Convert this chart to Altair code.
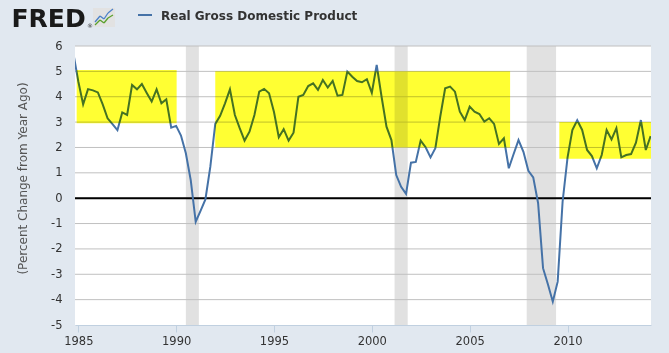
import altair as alt
import pandas as pd

# ---------------- data ----------------
quarter_start = "1984-10-01"
gdp_pct = [
    5.7, 4.6, 3.7, 4.3, 4.25, 4.17, 3.7, 3.15, 2.92, 2.68,
    3.38, 3.28, 4.46, 4.29, 4.5, 4.15, 3.81, 4.29, 3.74, 3.9,
    2.78, 2.85, 2.47, 1.77, 0.7, -0.93, -0.5, -0.05, 1.24, 2.93,
    3.25, 3.74, 4.29, 3.28, 2.76, 2.27, 2.62, 3.28, 4.2, 4.31,
    4.14, 3.4, 2.4, 2.72, 2.27, 2.58, 4.0, 4.07, 4.42, 4.53,
    4.27, 4.66, 4.36, 4.62, 4.04, 4.07, 4.99, 4.79, 4.62, 4.57,
    4.69, 4.15, 5.25, 4.0, 2.82, 2.29, 0.91, 0.45, 0.17, 1.4,
    1.43, 2.27, 2.01, 1.61, 1.97, 3.21, 4.33, 4.4, 4.2, 3.41,
    3.08, 3.61, 3.41, 3.32, 3.02, 3.15, 2.93, 2.14, 2.36, 1.18,
    1.74, 2.29, 1.83, 1.08, 0.82, -0.2, -2.76, -3.4, -4.08, -3.29,
    -0.14, 1.6, 2.69, 3.07, 2.69, 1.9, 1.66, 1.18, 1.7, 2.69,
    2.32, 2.76, 1.61, 1.7, 1.74, 2.19, 3.08, 1.9, 2.45,
]
quarters = pd.date_range(quarter_start, periods=len(gdp_pct), freq="QS").strftime("%Y-%m-%d").tolist()

rec_start = ["1990-07-01", "2001-03-01", "2007-12-01"]
rec_end = ["1991-03-01", "2001-11-01", "2009-06-01"]

box_x1 = ["1984-12-01", "1992-01-01", "2009-08-01"]
box_x2 = ["1990-01-10", "2007-01-25", "2014-04-08"]
box_y1 = [2.95, 2.0, 1.55]
box_y2 = [5.05, 5.0, 3.0]

y_ticks = list(range(-5, 7))
x_years = [1985, 1990, 1995, 2000, 2005, 2010]

series_name = "Real Gross Domestic Product"
y_title = "(Percent Change from Year Ago)"

# ---------------- scales & axes ----------------
x_scale = alt.Scale(
    type="utc",
    domain=[alt.DateTime(year=1984, month=10, date=31, utc=True),
            alt.DateTime(year=2014, month=4, date=8, utc=True)],
)
y_scale = alt.Scale(domain=[-5, 6], nice=False, zero=False)

FONT = "DejaVu Sans"

x_axis = alt.Axis(
    values=[alt.DateTime(year=y, month=1, date=1, utc=True) for y in x_years],
    format="%Y",
    grid=False,
    title=None,
    domainColor="#c0d0e0",
    tickColor="#c0d0e0",
    tickSize=7,
    labelColor="#333333",
    labelFontSize=11.5,
    labelFont=FONT,
    labelPadding=3,
    labelFlush=False,
)
y_axis = alt.Axis(
    values=y_ticks,
    labelExpr="replace(datum.label, '\u2212', '-')",
    grid=False,
    domain=False,
    ticks=False,
    labelPadding=13,
    labelFontSize=11.5,
    labelFont=FONT,
    labelColor="#333333",
    title=y_title,
    titleFont=FONT,
    titleFontSize=12,
    titleFontWeight="normal",
    titleColor="#555555",
    titleAngle=270,
    titleAlign="center",
    titleBaseline="middle",
    titleX=-53,
    titleY=132,
)

line_df = pd.DataFrame({"date": quarters, "value": gdp_pct})
rec_df = pd.DataFrame({"start": rec_start, "end": rec_end})
box_df = pd.DataFrame({"x1": box_x1, "x2": box_x2, "y1": box_y1, "y2": box_y2})
grid_df = pd.DataFrame({"v": y_ticks[1:]})
zero_df = pd.DataFrame({"v": [0]})
one = pd.DataFrame({"a": [0]})

recessions = alt.Chart(rec_df).mark_rect(color="#e1e1e1").encode(
    x=alt.X("start:T", scale=x_scale, axis=x_axis),
    x2="end:T",
)

gridlines = alt.Chart(grid_df).mark_rule(color="#c0c0c0", strokeWidth=1).encode(
    y=alt.Y("v:Q", scale=y_scale, axis=y_axis)
)

zero_line = alt.Chart(zero_df).mark_rule(color="black", strokeWidth=2).encode(
    y=alt.Y("v:Q", scale=y_scale, axis=y_axis)
)

line = alt.Chart(line_df).mark_line(color="#4572a7", strokeWidth=2, clip=True).encode(
    x=alt.X("date:T", scale=x_scale, axis=x_axis),
    y=alt.Y("value:Q", scale=y_scale, axis=y_axis),
)

boxes = alt.Chart(box_df).mark_rect(color="#ffff33", blend="multiply").encode(
    x=alt.X("x1:T", scale=x_scale, axis=x_axis), x2="x2:T",
    y=alt.Y("y1:Q", scale=y_scale, axis=y_axis), y2="y2:Q",
)

# ---------------- header ----------------
fred = alt.Chart(one).mark_text(
    text="FRED", font=FONT, fontWeight="bold", fontSize=25, color="#1a1a1a",
    align="left", baseline="alphabetic",
).encode(x=alt.value(-63.5), y=alt.value(-18.7))

reg = alt.Chart(one).mark_text(
    text="®", font=FONT, fontSize=6, color="#333333", align="left", baseline="alphabetic"
).encode(x=alt.value(12), y=alt.value(-18.5))

icon_bg = alt.Chart(one).mark_rect(color="#e2e2e2").encode(
    x=alt.value(18), x2=alt.value(40), y=alt.value(-38), y2=alt.value(-19)
)

blue_pts = [(20, -24), (25, -30), (29, -27), (33, -33), (38, -37)]
green_pts = [(20, -21), (25, -26), (29, -23), (33, -28), (38, -31)]
icon_layers = []
for pts, col in ((blue_pts, "#4a80c8"), (green_pts, "#5aa02c")):
    for (xa, ya), (xb, yb) in zip(pts[:-1], pts[1:]):
        icon_layers.append(
            alt.Chart(one).mark_rule(color=col, strokeWidth=1.3).encode(
                x=alt.value(xa), x2=alt.value(xb), y=alt.value(ya), y2=alt.value(yb)
            )
        )

legend_line = alt.Chart(one).mark_rule(color="#4572a7", strokeWidth=2).encode(
    x=alt.value(63), x2=alt.value(77), y=alt.value(-31), y2=alt.value(-31)
)
legend_text = alt.Chart(one).mark_text(
    text=series_name, font=FONT, fontWeight="bold", fontSize=12, color="#333333",
    align="left", baseline="alphabetic",
).encode(x=alt.value(86), y=alt.value(-26.5))

chart = alt.layer(
    recessions, gridlines, zero_line, line, boxes,
    fred, reg, icon_bg, *icon_layers, legend_line, legend_text,
).properties(
    width=576,
    height=279,
    autosize=alt.AutoSizeParams(type="none"),
    padding={"left": 75, "top": 46, "right": 18, "bottom": 28},
    background="#e1e8f0",
).configure_view(stroke=None, fill="white")

chart.save("out.html", embed_options={"renderer": "svg", "actions": False})
